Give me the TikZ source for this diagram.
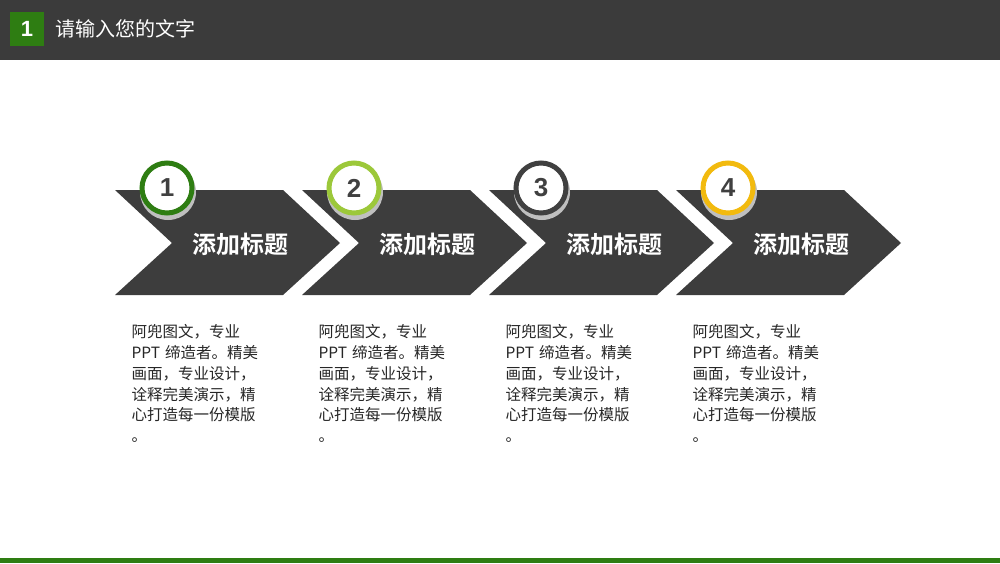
\documentclass[tikz,border=0pt]{standalone}
\usepackage{fontspec}
\newfontfamily\cjk{Noto Sans CJK SC}
\newfontfamily\cjkb{Noto Sans CJK SC Bold}
\newfontfamily\lsans{Liberation Sans}
\definecolor{g1}{HTML}{2E7D12}
\definecolor{g2}{HTML}{9CC83A}
\definecolor{g4}{HTML}{F2BA0E}
\begin{document}
\begin{tikzpicture}[x=1pt,y=-1pt,
  chev/.style={fill=black!76},
  ring/.style={draw=#1,line width=5pt,fill=white},
  num/.style={font=\lsans\bfseries\fontsize{26}{26}\selectfont,text=black!75},
  ttl/.style={text=white,font=\cjkb\fontsize{24}{24}\selectfont},
  para/.style={anchor=north west,align=left,text width=160pt,font=\cjk\fontsize{15.5}{20.8}\selectfont,text=black!85}]
\useasboundingbox (0,0) rectangle (1000,563);
\fill[black!77] (0,0) rectangle (1000,60);
\fill[g1] (10,12) rectangle (44,46);
\node[text=white,font=\lsans\bfseries\fontsize{22}{22}\selectfont] (hn) at (27,29) {1};
\node[anchor=west,text=white,font=\cjk\fontsize{20}{20}\selectfont] (ht) at (52,29) {请输入您的文字};
\fill[g1] (0,558) rectangle (1000,563);
\foreach \i/\c in {0/g1,1/g2,2/{black!75},3/g4}{
  \begin{scope}[xshift=\i*187]
  \fill[chev] (115,190) -- (283,190) -- (340,243) -- (283,295) -- (115,295) -- (172,243) -- cycle;
  \fill[black!25] (168,192) circle (28);
  \draw[ring=\c] (167,188) circle (25);
  \node[num] (n\i) at (167,188) {\pgfmathparse{int(\i+1)}\pgfmathresult};
  \node[ttl] (t\i) at (240,244) {添加标题};
  \node[para] (p\i) at (128,321) {阿兜图文，专业\\PPT 缔造者。精美\\画面，专业设计，\\诠释完美演示，精\\心打造每一份模版\\。};
  \end{scope}
}
\end{tikzpicture}
\end{document}
